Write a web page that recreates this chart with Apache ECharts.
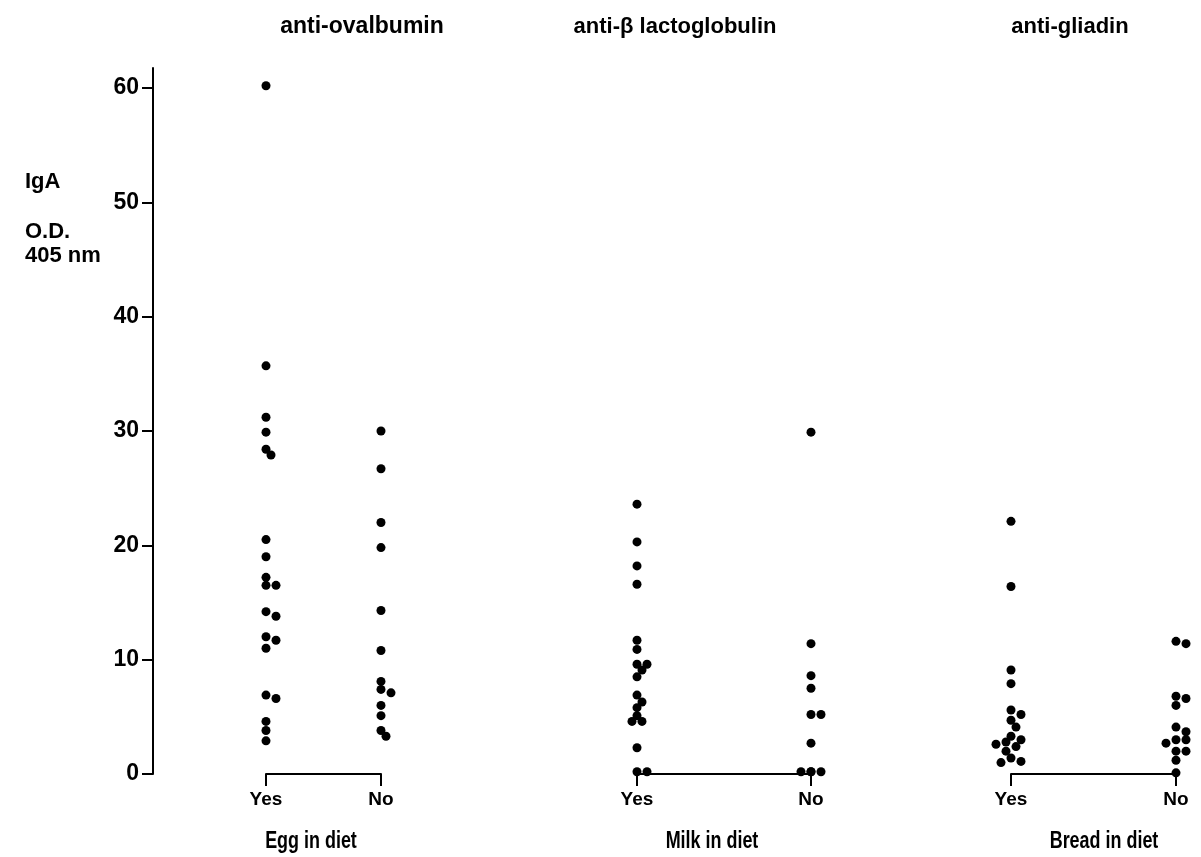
<!DOCTYPE html>
<html>
<head>
<meta charset="utf-8">
<script src="https://cdn.jsdelivr.net/npm/echarts@6/dist/echarts.min.js"></script>
<style>
  html, body { margin: 0; padding: 0; background: #ffffff; }
  #chart { width: 1201px; height: 857px; }
</style>
</head>
<body>
<div id="chart"></div>
<script>
// ---- data -------------------------------------------------------------
const panelTitles = ['anti-ovalbumin', 'anti-\u03B2 lactoglobulin', 'anti-gliadin'];
const dietLabels = ['Egg in diet', 'Milk in diet', 'Bread in diet'];
const groupLabels = ['Yes', 'No'];
const yTicks = [0, 10, 20, 30, 40, 50, 60];
const yTitleLines = ['IgA', 'O.D.', '405 nm'];

// IgA anti-ovalbumin (O.D. 405 nm)
const eggYes = [60.2, 35.7, 31.2, 29.9, 28.4, 27.9, 20.5, 19.0, 17.2, 16.5, 16.5,
                14.2, 13.8, 12.0, 11.7, 11.0, 6.9, 6.6, 4.6, 3.8, 2.9];
const eggNo = [30.0, 26.7, 22.0, 19.8, 14.3, 10.8, 8.1, 7.4, 7.1, 6.0, 5.1, 3.8, 3.3];

// IgA anti-beta lactoglobulin
const milkYes = [23.6, 20.3, 18.2, 16.6, 11.7, 10.9, 9.6, 9.6, 9.1, 8.5, 6.9, 6.3,
                 5.8, 5.1, 4.6, 4.6, 2.3, 0.2, 0.2];
const milkNo = [29.9, 11.4, 8.6, 7.5, 5.2, 5.2, 2.7, 0.2, 0.2, 0.2, 0.2];

// IgA anti-gliadin
const breadYes = [22.1, 16.4, 9.1, 7.9, 5.6, 5.2, 4.7, 4.1, 3.3, 3.0, 2.8, 2.6,
                  2.4, 2.0, 1.4, 1.1, 1.0];
const breadNo = [11.6, 11.4, 6.8, 6.6, 6.0, 4.1, 3.7, 3.0, 3.0, 2.7, 2.0, 2.0, 1.2, 0.1];

const panelData = [[eggYes, eggNo], [milkYes, milkNo], [breadYes, breadNo]];

// ---- layout -----------------------------------------------------------
const PLOT_TOP = 68;          // top end of the value axis
const PLOT_BOTTOM = 774;      // pixel row of value 0
const Y_MAX = 61.75;
const AXIS_X = 153;
const panelSpans = [[266, 381], [637, 811], [1011, 1176]];   // Yes / No columns
const titleCenters = [362, 675, 1070];
const titleSizes = [23, 22, 22];
const dietCenters = [311, 712, 1104];
const DOT = 9;
const INK = '#000000';
const FONT = "'Liberation Sans', Arial, Helvetica, sans-serif";

const plotHeight = PLOT_BOTTOM - PLOT_TOP;
const pxPerUnit = plotHeight / Y_MAX;

// Spread touching dots sideways (simple dot-plot dodge, in pixels).
function dodge(values, step, minDist) {
  const placed = [];
  const sorted = values.slice().sort((a, b) => b - a);
  return sorted.map(v => {
    const y = v * pxPerUnit;
    const cands = [0, step, -step, 2 * step, -2 * step, 3 * step, -3 * step];
    for (const dx of cands) {
      if (placed.every(p => Math.hypot(p.dx - dx, p.y - y) >= minDist)) {
        placed.push({ dx, y });
        return { dx, v };
      }
    }
    placed.push({ dx: 0, y });
    return { dx: 0, v };
  });
}

const gridBase = { top: PLOT_TOP, height: plotHeight, containLabel: false, outerBoundsMode: 'none' };
const grids = [Object.assign({ left: AXIS_X, right: 0 }, gridBase)];
const xAxes = [{ gridIndex: 0, type: 'value', show: false, min: 0, max: 1 }];
const yAxes = [{
  gridIndex: 0,
  type: 'value',
  min: 0,
  max: Y_MAX,
  axisLine: { show: true, lineStyle: { color: INK, width: 2 } },
  axisTick: { show: true, length: 11, customValues: yTicks, lineStyle: { color: INK, width: 2 } },
  axisLabel: {
    customValues: yTicks, color: INK, fontSize: 23, fontWeight: 'bold',
    fontFamily: FONT, margin: 14
  },
  splitLine: { show: false }
}];
const series = [];

panelSpans.forEach((span, i) => {
  const width = span[1] - span[0];
  grids.push(Object.assign({ left: span[0], width: width }, gridBase));
  xAxes.push({
    gridIndex: i + 1,
    type: 'value',
    min: 0,
    max: 1,
    interval: 1,
    axisLine: { show: true, lineStyle: { color: INK, width: 2 } },
    axisTick: { show: true, length: 12, inside: false, lineStyle: { color: INK, width: 2 } },
    axisLabel: {
      formatter: v => groupLabels[v] || '',
      color: INK, fontSize: 19, fontWeight: 'bold', fontFamily: FONT, margin: 16
    },
    splitLine: { show: false }
  });
  yAxes.push({ gridIndex: i + 1, type: 'value', min: 0, max: Y_MAX, show: false });

  panelData[i].forEach((vals, g) => {
    const pts = dodge(vals, 5, 7).map(p => [g + p.dx / width, p.v]);
    series.push({
      name: panelTitles[i] + ' / ' + groupLabels[g],
      type: 'scatter',
      xAxisIndex: i + 1,
      yAxisIndex: i + 1,
      data: pts,
      symbol: 'circle',
      symbolSize: DOT,
      clip: false,
      itemStyle: { color: INK, opacity: 1 },
      silent: true
    });
  });
});

const graphics = [];
panelTitles.forEach((t, i) => {
  graphics.push({
    type: 'text', x: titleCenters[i], y: 27,
    style: { text: t, fill: INK, font: 'bold ' + titleSizes[i] + 'px ' + FONT, textAlign: 'center', textVerticalAlign: 'middle' }
  });
});
// diet captions under each Yes/No bracket, drawn slightly condensed
dietLabels.forEach((t, i) => {
  graphics.push({
    type: 'text', x: dietCenters[i], y: 842, scaleX: 0.78,
    style: { text: t, fill: INK, font: 'bold 23px ' + FONT, textAlign: 'center', textVerticalAlign: 'middle' }
  });
});
const yTitlePos = [182, 232, 256];
yTitleLines.forEach((t, i) => {
  graphics.push({
    type: 'text', x: 25, y: yTitlePos[i],
    style: { text: t, fill: INK, font: 'bold 22px ' + FONT, textAlign: 'left', textVerticalAlign: 'middle' }
  });
});

const chart = echarts.init(document.getElementById('chart'), null, { renderer: 'canvas' });
chart.setOption({
  backgroundColor: '#ffffff',
  animation: false,
  grid: grids,
  xAxis: xAxes,
  yAxis: yAxes,
  series: series,
  graphic: graphics
});
</script>
</body>
</html>
